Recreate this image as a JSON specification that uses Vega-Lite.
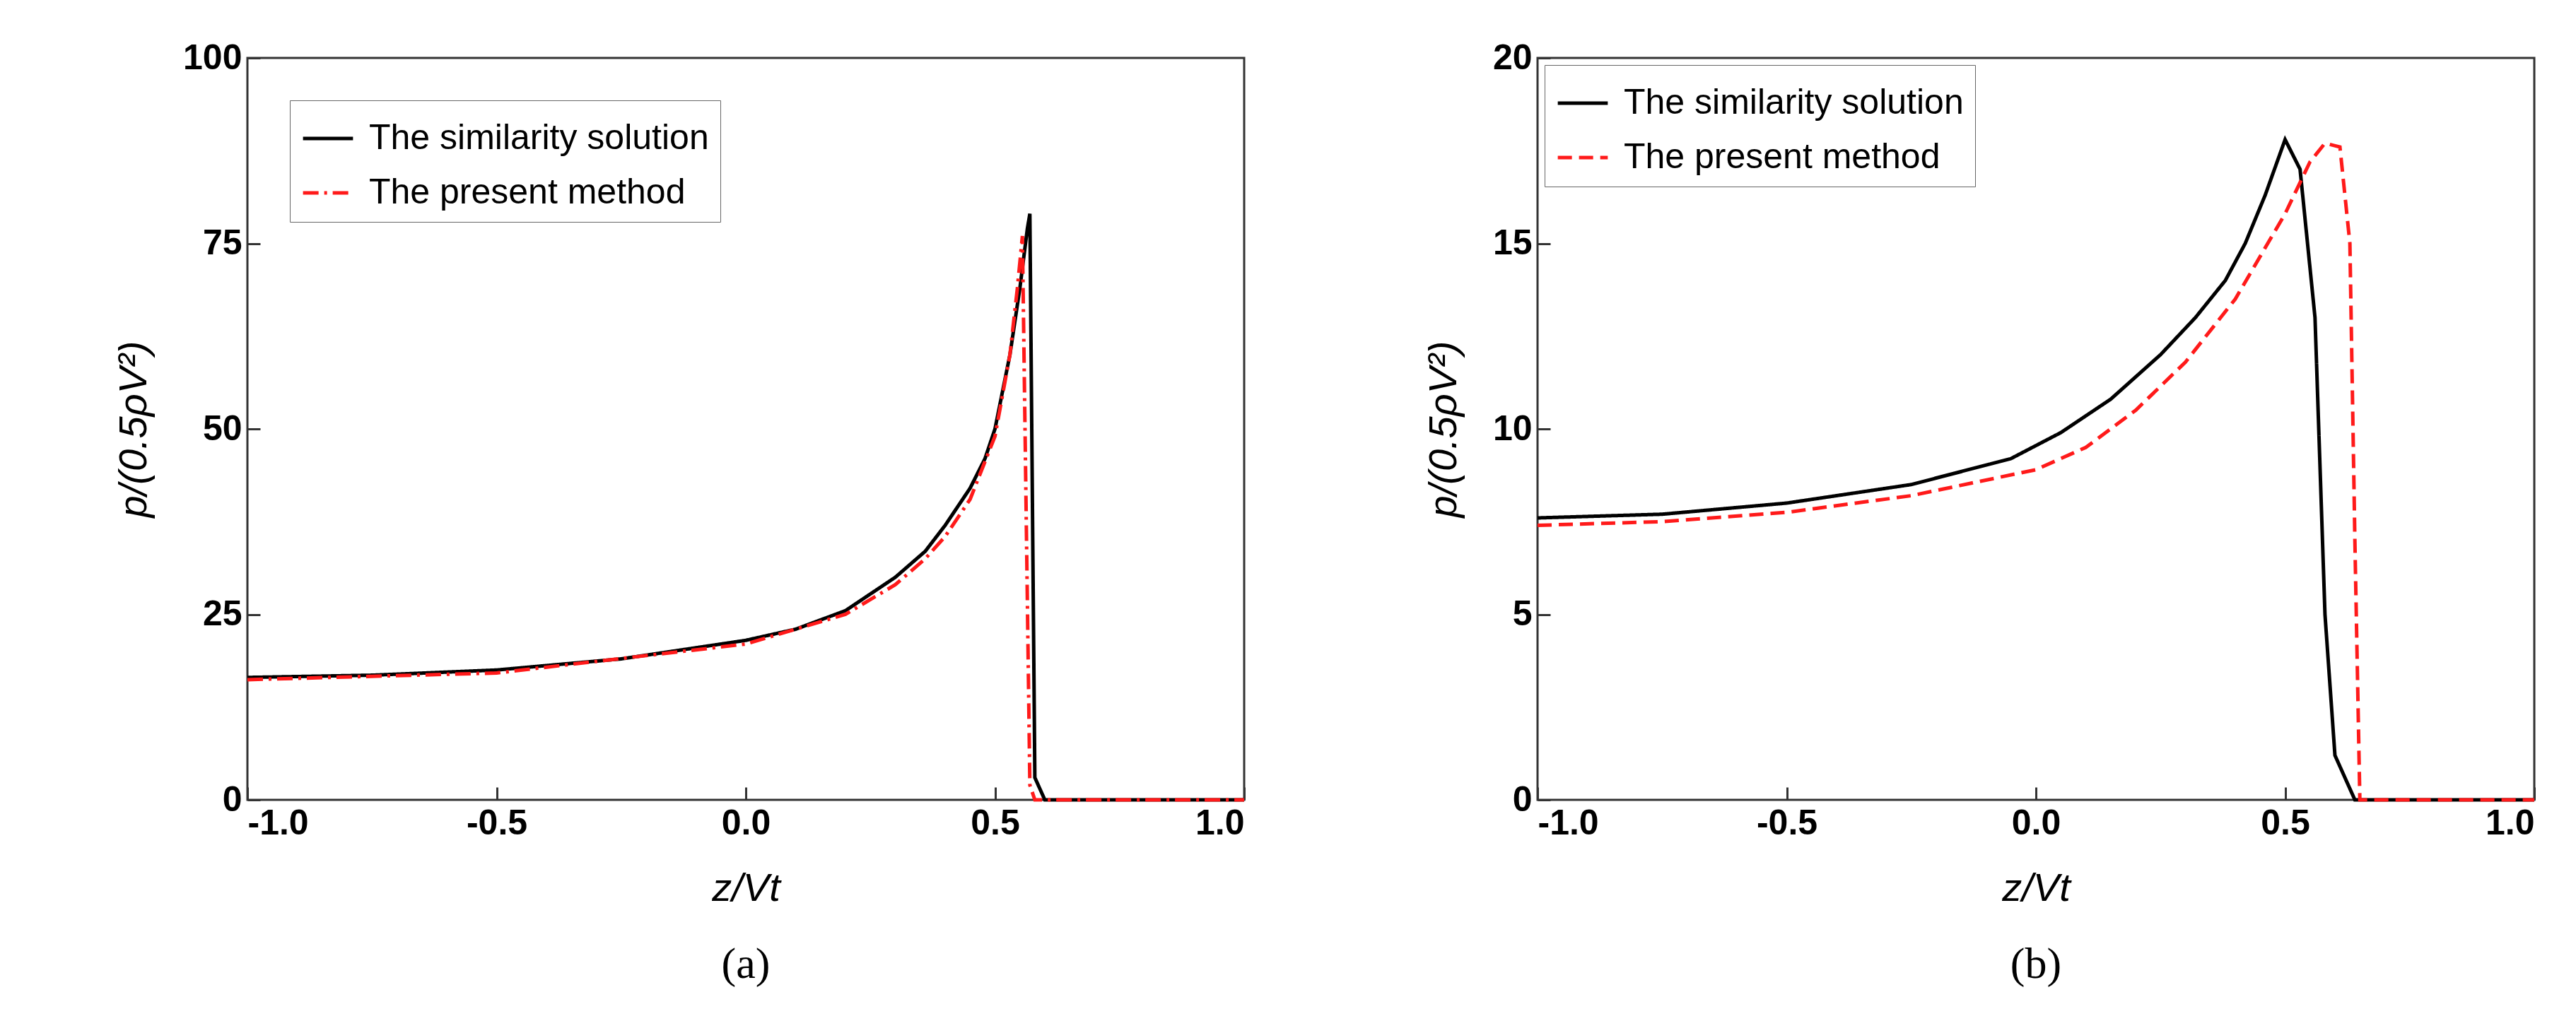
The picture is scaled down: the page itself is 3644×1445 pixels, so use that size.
{
  "$schema": "https://vega.github.io/schema/vega-lite/v6.json",
  "background": "white",
  "padding": {"left": 160, "top": 55, "right": 60, "bottom": 10},
  "spacing": 240,
  "datasets": {
    "a": [
      {"z": -1.0, "p": 16.5, "s": "The similarity solution"},
      {"z": -0.75, "p": 16.8, "s": "The similarity solution"},
      {"z": -0.5, "p": 17.5, "s": "The similarity solution"},
      {"z": -0.25, "p": 19.0, "s": "The similarity solution"},
      {"z": 0.0, "p": 21.5, "s": "The similarity solution"},
      {"z": 0.1, "p": 23.0, "s": "The similarity solution"},
      {"z": 0.2, "p": 25.5, "s": "The similarity solution"},
      {"z": 0.3, "p": 30.0, "s": "The similarity solution"},
      {"z": 0.36, "p": 33.5, "s": "The similarity solution"},
      {"z": 0.4, "p": 37.0, "s": "The similarity solution"},
      {"z": 0.45, "p": 42.0, "s": "The similarity solution"},
      {"z": 0.48, "p": 46.0, "s": "The similarity solution"},
      {"z": 0.5, "p": 50.0, "s": "The similarity solution"},
      {"z": 0.53, "p": 60.0, "s": "The similarity solution"},
      {"z": 0.55, "p": 69.0, "s": "The similarity solution"},
      {"z": 0.565, "p": 77.0, "s": "The similarity solution"},
      {"z": 0.57, "p": 79.0, "s": "The similarity solution"},
      {"z": 0.58, "p": 3.0, "s": "The similarity solution"},
      {"z": 0.6, "p": 0.0, "s": "The similarity solution"},
      {"z": 1.0, "p": 0.0, "s": "The similarity solution"},
      {"z": -1.0, "p": 16.2, "s": "The present method"},
      {"z": -0.5, "p": 17.1, "s": "The present method"},
      {"z": 0.0, "p": 21.0, "s": "The present method"},
      {"z": 0.2, "p": 25.0, "s": "The present method"},
      {"z": 0.3, "p": 29.0, "s": "The present method"},
      {"z": 0.36, "p": 32.5, "s": "The present method"},
      {"z": 0.4, "p": 35.5, "s": "The present method"},
      {"z": 0.45, "p": 40.5, "s": "The present method"},
      {"z": 0.5, "p": 49.0, "s": "The present method"},
      {"z": 0.53, "p": 60.0, "s": "The present method"},
      {"z": 0.545, "p": 69.0, "s": "The present method"},
      {"z": 0.555, "p": 76.0, "s": "The present method"},
      {"z": 0.57, "p": 2.0, "s": "The present method"},
      {"z": 0.58, "p": 0.0, "s": "The present method"},
      {"z": 1.0, "p": 0.0, "s": "The present method"}
    ],
    "b": [
      {"z": -1.0, "p": 7.6, "s": "The similarity solution"},
      {"z": -0.75, "p": 7.7, "s": "The similarity solution"},
      {"z": -0.5, "p": 8.0, "s": "The similarity solution"},
      {"z": -0.25, "p": 8.5, "s": "The similarity solution"},
      {"z": -0.05, "p": 9.2, "s": "The similarity solution"},
      {"z": 0.05, "p": 9.9, "s": "The similarity solution"},
      {"z": 0.15, "p": 10.8, "s": "The similarity solution"},
      {"z": 0.25, "p": 12.0, "s": "The similarity solution"},
      {"z": 0.32, "p": 13.0, "s": "The similarity solution"},
      {"z": 0.38, "p": 14.0, "s": "The similarity solution"},
      {"z": 0.42, "p": 15.0, "s": "The similarity solution"},
      {"z": 0.46, "p": 16.3, "s": "The similarity solution"},
      {"z": 0.5, "p": 17.8, "s": "The similarity solution"},
      {"z": 0.53, "p": 17.0, "s": "The similarity solution"},
      {"z": 0.56, "p": 13.0, "s": "The similarity solution"},
      {"z": 0.58, "p": 5.0, "s": "The similarity solution"},
      {"z": 0.6, "p": 1.2, "s": "The similarity solution"},
      {"z": 0.64, "p": 0.0, "s": "The similarity solution"},
      {"z": 1.0, "p": 0.0, "s": "The similarity solution"},
      {"z": -1.0, "p": 7.4, "s": "The present method"},
      {"z": -0.75, "p": 7.5, "s": "The present method"},
      {"z": -0.5, "p": 7.75, "s": "The present method"},
      {"z": -0.25, "p": 8.2, "s": "The present method"},
      {"z": 0.0, "p": 8.9, "s": "The present method"},
      {"z": 0.1, "p": 9.5, "s": "The present method"},
      {"z": 0.2, "p": 10.5, "s": "The present method"},
      {"z": 0.3, "p": 11.8, "s": "The present method"},
      {"z": 0.4, "p": 13.5, "s": "The present method"},
      {"z": 0.5, "p": 15.8, "s": "The present method"},
      {"z": 0.55, "p": 17.2, "s": "The present method"},
      {"z": 0.58, "p": 17.7, "s": "The present method"},
      {"z": 0.61, "p": 17.6, "s": "The present method"},
      {"z": 0.63, "p": 15.0, "s": "The present method"},
      {"z": 0.64, "p": 7.0, "s": "The present method"},
      {"z": 0.65, "p": 0.0, "s": "The present method"},
      {"z": 1.0, "p": 0.0, "s": "The present method"}
    ]
  },
  "config": {
    "font": "Liberation Sans",
    "view": {"stroke": "#333", "strokeWidth": 3},
    "axis": {
      "grid": false, "domain": false, "ticks": true, "tickSize": -18, "tickWidth": 3, "tickColor": "#333",
      "labelFont": "Liberation Sans", "labelFontSize": 50, "labelFontWeight": "bold", "labelColor": "black",
      "labelPadding": 26, "titleFont": "Liberation Sans", "titleFontSize": 56, "titleFontWeight": "normal",
      "titleFontStyle": "italic", "titleColor": "black", "titlePadding": 40
    },
    "legend": {
      "orient": "top-left", "offset": 60, "strokeColor": "#666", "fillColor": "white", "padding": 16,
      "labelFontSize": 50, "labelFont": "Liberation Sans", "symbolType": "stroke", "symbolSize": 5000,
      "symbolStrokeWidth": 5, "rowPadding": 14, "labelLimit": 1000, "labelOffset": 20, "title": null
    },
    "title": {"orient": "bottom", "fontSize": 62, "font": "Liberation Serif", "fontWeight": "normal", "offset": 50}
  },
  "hconcat": [
    {
      "width": 1410, "height": 1050,
      "title": "(a)",
      "data": {"name": "a"},
      "mark": {"type": "line", "strokeWidth": 5},
      "encoding": {
        "x": {"field": "z", "type": "quantitative", "title": "z/Vt", "scale": {"domain": [-1, 1], "nice": false}, "axis": {"values": [-1, -0.5, 0, 0.5, 1], "labelExpr": "replace(format(datum.value, '.1f'), '−', '-')"}},
        "y": {"field": "p", "type": "quantitative", "title": "p/(0.5ρV²)", "scale": {"domain": [0, 100], "nice": false}, "axis": {"values": [0, 25, 50, 75, 100]}},
        "color": {"field": "s", "type": "nominal", "sort": ["The similarity solution", "The present method"], "scale": {"domain": ["The similarity solution", "The present method"], "range": ["black", "#ff1a1a"]}},
        "strokeDash": {"field": "s", "type": "nominal", "sort": ["The similarity solution", "The present method"], "scale": {"domain": ["The similarity solution", "The present method"], "range": [[1, 0], [22, 8, 4, 8]]}}
      }
    },
    {
      "width": 1410, "height": 1050,
      "title": "(b)",
      "data": {"name": "b"},
      "mark": {"type": "line", "strokeWidth": 5},
      "encoding": {
        "x": {"field": "z", "type": "quantitative", "title": "z/Vt", "scale": {"domain": [-1, 1], "nice": false}, "axis": {"values": [-1, -0.5, 0, 0.5, 1], "labelExpr": "replace(format(datum.value, '.1f'), '−', '-')"}},
        "y": {"field": "p", "type": "quantitative", "title": "p/(0.5ρV²)", "scale": {"domain": [0, 20], "nice": false}, "axis": {"values": [0, 5, 10, 15, 20]}},
        "color": {"field": "s", "type": "nominal", "sort": ["The similarity solution", "The present method"], "scale": {"domain": ["The similarity solution", "The present method"], "range": ["black", "#ff1a1a"]}, "legend": {"offset": 10}},
        "strokeDash": {"field": "s", "type": "nominal", "sort": ["The similarity solution", "The present method"], "scale": {"domain": ["The similarity solution", "The present method"], "range": [[1, 0], [20, 10]]}, "legend": {"offset": 10}}
      }
    }
  ],
  "resolve": {"scale": {"color": "independent", "strokeDash": "independent"}, "legend": {"color": "independent", "strokeDash": "independent"}}
}
